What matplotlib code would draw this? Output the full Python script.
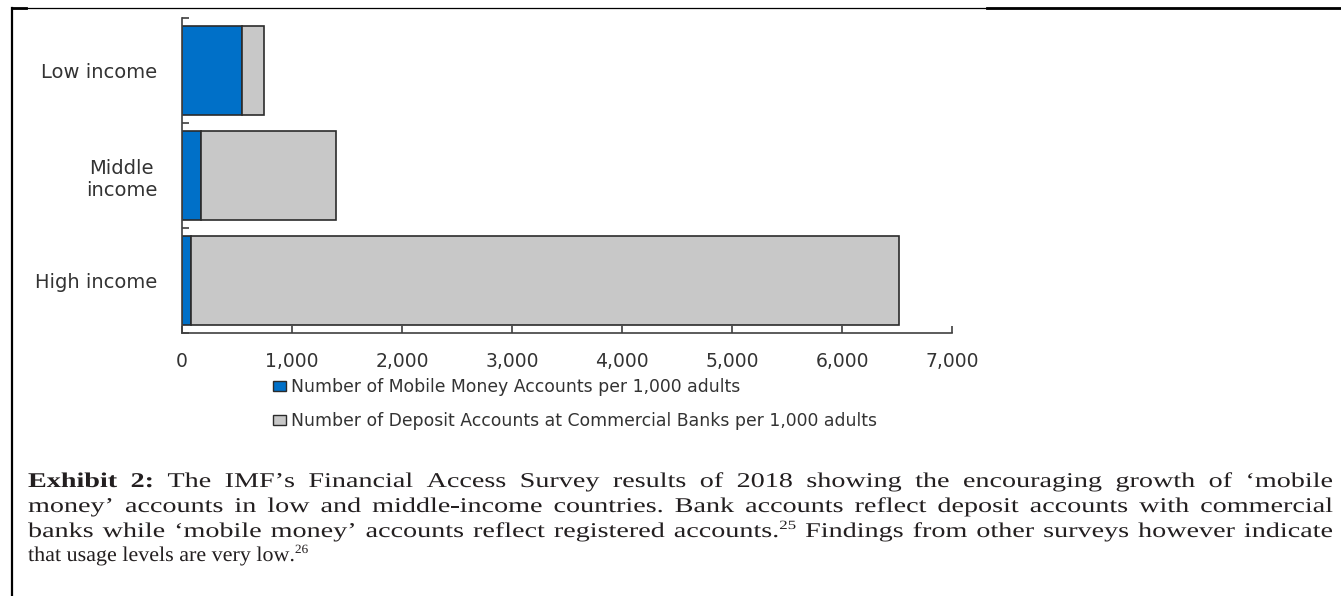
import numpy as np
import matplotlib
matplotlib.use('Agg')
import matplotlib.pyplot as plt
from matplotlib.lines import Line2D
from matplotlib.patches import Patch, PathPatch
from matplotlib.ticker import FuncFormatter
from matplotlib.textpath import TextPath
from matplotlib.font_manager import FontProperties, findfont, get_font
from matplotlib.transforms import Affine2D
from matplotlib.ft2font import LoadFlags

# data (accounts per 1,000 adults)
categories = ['Low income', 'Middle\nincome', 'High income']
mobile_accounts = [548, 175, 79]
deposit_accounts = [200, 1223, 6441]   # stacked after mobile
x_ticks = [0, 1000, 2000, 3000, 4000, 5000, 6000, 7000]
legend_labels = ['Number of Mobile Money Accounts per 1,000 adults',
                 'Number of Deposit Accounts at Commercial Banks per 1,000 adults']

# caption lines as (text, style) runs; style: 'b' bold, 'n' normal, 's' superscript
caption_lines = [
  [('Exhibit 2:', 'b'), (' The IMF\u2019s Financial Access Survey results of 2018 showing the encouraging growth of \u2018mobile', 'n')],
  [('money\u2019 accounts in low and middle-income countries. Bank accounts reflect deposit accounts with commercial', 'n')],
  [('banks while \u2018mobile money\u2019 accounts reflect registered accounts.', 'n'), ('25', 's'),
   (' Findings from other surveys however indicate', 'n')],
  [('that usage levels are very low.', 'n'), ('26', 's')],
]

W, H = 1341, 596
blue = '#0070C8'
grey = '#C8C8C8'
edge = '#2b2b2b'
txt = '#333333'

fig = plt.figure(figsize=(W/100, H/100), dpi=100)
ax = fig.add_axes([182/W, 1-333/H, 770/W, 315/H])

y = np.arange(len(categories))
ax.barh(y, mobile_accounts, height=0.84, color=blue, edgecolor=edge, linewidth=1.2, zorder=2)
ax.barh(y, deposit_accounts, left=mobile_accounts, height=0.84, color=grey, edgecolor=edge, linewidth=1.2, zorder=2)

ax.set_ylim(2.5, -0.5)
ax.set_xlim(0, 7000)
ax.set_yticks([-0.5, 0.5, 1.5, 2.5])
ax.set_yticklabels([])
ax.set_yticks(y, minor=True)
ax.set_yticklabels(categories, minor=True)
for lbl in ax.get_yticklabels(minor=True):
  lbl.set_multialignment('center')
ax.tick_params(axis='y', which='major', direction='in', length=5, width=1.2, color='#404040')
ax.tick_params(axis='y', which='minor', length=0, pad=18, labelsize=14, labelcolor=txt)

ax.set_xticks(x_ticks)
ax.xaxis.set_major_formatter(FuncFormatter(lambda v, p: '{:,.0f}'.format(v)))
ax.tick_params(axis='x', direction='in', length=5, width=1.2, color='#404040', pad=14, labelsize=13.5, labelcolor=txt)

for s in ['top', 'right']:
  ax.spines[s].set_visible(False)
for s in ['left', 'bottom']:
  ax.spines[s].set_color('#404040')
  ax.spines[s].set_linewidth(1.2)

handles = [Patch(facecolor=blue, edgecolor=edge, label=legend_labels[0]),
           Patch(facecolor=grey, edgecolor=edge, label=legend_labels[1])]
ax.legend(handles=handles, loc='upper left', bbox_to_anchor=(273/W, 1-378/H), bbox_transform=fig.transFigure,
          frameon=False, handlelength=0.75, handleheight=0.5, handletextpad=0.3, labelspacing=0.92,
          borderpad=0, borderaxespad=0, fontsize=12.4, labelcolor=txt)

# page border
fig.add_artist(Line2D([12/W, 12/W], [0, 1-8/H], transform=fig.transFigure, color='k', lw=1.6))
fig.add_artist(Line2D([12/W, 1], [1-8/H, 1-8/H], transform=fig.transFigure, color='k', lw=0.9))
fig.add_artist(Line2D([987/W, 1], [1-8/H, 1-8/H], transform=fig.transFigure, color='k', lw=2.0))
fig.add_artist(Line2D([12/W, 26/W], [1-8/H, 1-8/H], transform=fig.transFigure, color='k', lw=2.0))

# caption: glyphs stretched sideways (as in the scan), leftover space goes to word gaps
em = 21.0        # glyph height scale in px
sx_max = 1.34    # sideways stretch of justified lines
sx_last = 1.05   # stretch of the short last line
x0, x1 = 28, 1333
baselines = [487, 512, 537, 561]
props = {'n': FontProperties(family='Liberation Serif'),
         'b': FontProperties(family='Liberation Serif', weight='bold'),
         's': FontProperties(family='Liberation Serif')}
sizes = {'n': em, 'b': em, 's': em*0.6}

fonts = {}
def advance(ch, st):
  if st not in fonts:
    fonts[st] = get_font(findfont(props[st]))
  f = fonts[st]
  f.set_size(sizes[st], 72)
  g = f.load_char(ord(ch), flags=LoadFlags.NO_HINTING)
  return g.linearHoriAdvance / 65536.0

for i, line in enumerate(caption_lines):
  glyphs = [(ch, st) for run, st in line for ch in run]
  widths = [advance(ch, st) for ch, st in glyphs]
  n_space = sum(1 for ch, st in glyphs if ch == ' ')
  justify = i < len(caption_lines) - 1
  if justify:
    sx = min(sx_max, (x1 - x0) / sum(widths))
    gap = (x1 - x0 - sx * sum(widths)) / n_space
  else:
    sx, gap = sx_last, 0
  x = x0
  yb = H - baselines[i]
  for (ch, st), w in zip(glyphs, widths):
    if ch != ' ':
      yy = yb + 8 if st == 's' else yb
      path = TextPath((0, 0), ch, size=sizes[st], prop=props[st])
      tr = Affine2D().scale(sx, 1.0).translate(x, yy)
      fig.add_artist(PathPatch(path, transform=tr, facecolor='#231f20', edgecolor='none', lw=0))
      x += w * sx
    else:
      x += w * sx + gap

fig.savefig('out.png', dpi=100)
